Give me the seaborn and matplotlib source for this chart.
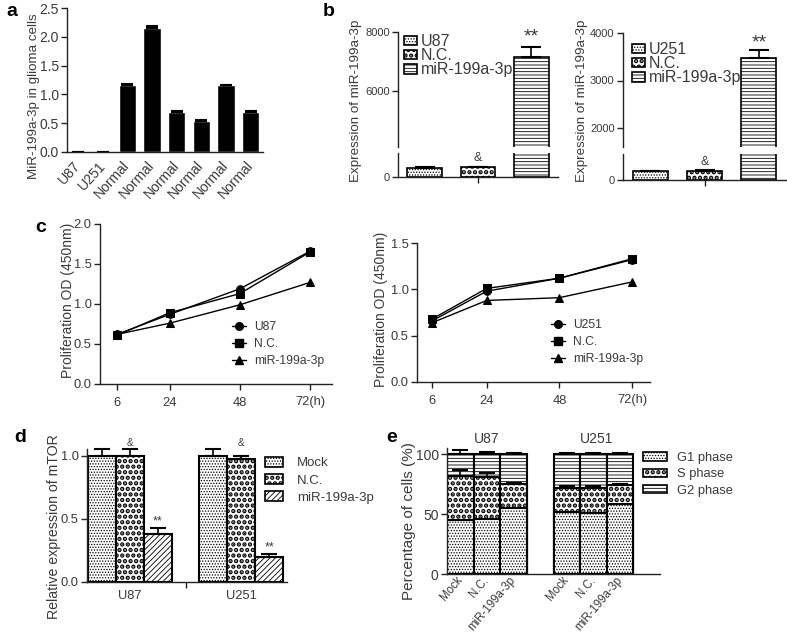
import numpy as np
import pandas as pd
import matplotlib
matplotlib.use("Agg")
import matplotlib.pyplot as plt
import seaborn as sns
from matplotlib.patches import Patch
from matplotlib.lines import Line2D

# ---------------- data ----------------
# panel a
a_labels = ["U87", "U251", "Normal", "Normal", "Normal", "Normal", "Normal", "Normal"]
a_values = [0.0, 0.0, 1.17, 2.15, 0.70, 0.54, 1.16, 0.70]
a_err = [0.0, 0.0, 0.01, 0.03, 0.01, 0.01, 0.01, 0.01]

# panel b
b1_groups = ["U87", "N.C.", "miR-199a-3p"]
b1_values = [390, 410, 7150]
b1_err = [10, 20, 340]
b2_groups = ["U251", "N.C.", "miR-199a-3p"]
b2_values = [175, 180, 3470]
b2_err = [5, 5, 170]

# panel c
c_time = [6, 24, 48, 72]
c_time_labels = ["6", "24", "48", "72(h)"]
c1_ctrl = [0.62, 0.87, 1.19, 1.66]
c1_nc = [0.61, 0.89, 1.13, 1.65]
c1_mir = [0.62, 0.76, 0.99, 1.27]
c2_ctrl = [0.66, 0.98, 1.12, 1.32]
c2_nc = [0.68, 1.01, 1.12, 1.33]
c2_mir = [0.64, 0.88, 0.91, 1.08]

# panel d
d_cells = ["U87", "U251"]
d_treat = ["Mock", "N.C.", "miR-199a-3p"]
d_mock = [1.00, 1.00]
d_mock_err = [0.05, 0.05]
d_nc = [1.00, 0.97]
d_nc_err = [0.05, 0.03]
d_mir = [0.38, 0.20]
d_mir_err = [0.05, 0.02]

# panel e
e_cells = ["U87", "U251"]
e_treat = ["Mock", "N.C.", "miR-199a-3p"]
e_g1 = [45, 46, 55, 52, 51, 58]
e_s = [37, 35, 20, 20, 21, 16]
e_g2 = [18, 19, 25, 28, 28, 26]
e_s_err = [5, 3, 1, 1, 1, 1]
e_g2_err = [3, 2, 0.5, 0.5, 0.5, 0.5]
e_phases = ["G1 phase", "S phase", "G2 phase"]

# ---------------- style ----------------
sns.set_theme(style="ticks")
plt.rcParams["font.family"] = ["Liberation Sans", "DejaVu Sans"]
plt.rcParams["hatch.linewidth"] = 0.6
TXT = "#3a3a3a"
LINE = "#222222"

H_DOT = "......"
H_CHK = "..."
H_LINES = "-----"
H_DIAG = "//////"

W, H = 787, 636
fig = plt.figure(figsize=(W / 100, H / 100), dpi=100)


def axpx(l, t, r, b):
    return fig.add_axes([l / W, 1 - b / H, (r - l) / W, (b - t) / H])


def style(ax, fs=9):
    sns.despine(ax=ax)
    for s in ["left", "bottom"]:
        ax.spines[s].set_linewidth(1.0)
        ax.spines[s].set_color(LINE)
    ax.tick_params(direction="out", length=4, width=1, color=LINE,
                   labelsize=fs, labelcolor=TXT, pad=2)
    ax.set_facecolor("none")


def hlw(h):
    return 2.2 if h == H_CHK else 0.6


def set_hatch(p, h):
    p.set_hatch(h)
    p.set_edgecolor("black")
    p.set_facecolor("white")
    if hasattr(p, "set_hatch_linewidth"):
        p.set_hatch_linewidth(hlw(h))


def ylabel(ax, text, l, r, t, b, xpx, ypx, fs=9.5):
    ax.set_ylabel(text, fontsize=fs, color=TXT)
    ax.yaxis.set_label_coords((xpx - l) / (r - l), (b - ypx) / (b - t))


def leg_patch(h):
    return Patch(facecolor="white", edgecolor="black", hatch=h, linewidth=1.2)


def fig_legend(ax, handles, labels, xpx, ypx, fs, **kw):
    lg = ax.legend(handles, labels, loc="upper left",
                   bbox_to_anchor=(xpx / W, 1 - ypx / H),
                   bbox_transform=fig.transFigure, frameon=False,
                   borderpad=0, borderaxespad=0, fontsize=fs, **kw)
    for t in lg.get_texts():
        t.set_color(TXT)
    for hnd in lg.legend_handles:
        if isinstance(hnd, Patch) and hasattr(hnd, "set_hatch_linewidth"):
            hnd.set_hatch_linewidth(hlw(hnd.get_hatch()))
    return lg


def letter(x, y, s):
    fig.text(x / W, 1 - y / H, s, fontsize=14, fontweight="bold",
             ha="center", va="center", color="black")


# ---------------- panel a ----------------
l, t, r, b = 67, 8, 263, 152
axA = axpx(l, t, r, b)
dfA = pd.DataFrame({"pos": list(range(len(a_labels))), "val": a_values})
sns.barplot(data=dfA, x="pos", y="val", color="black", width=0.7, ax=axA,
            errorbar=None, saturation=1)
axA.errorbar(range(len(a_labels)), a_values,
             yerr=[np.zeros(len(a_err)), a_err], fmt="none", ecolor="black",
             capsize=4, elinewidth=1, capthick=1.5)
axA.set_ylim(0, 2.5)
axA.set_xlim(-0.45, 7.5)
axA.set_yticks([0, 0.5, 1.0, 1.5, 2.0, 2.5])
axA.set_yticklabels(["0.0", "0.5", "1.0", "1.5", "2.0", "2.5"])
axA.set_xticks(range(len(a_labels)))
axA.set_xticklabels(a_labels, rotation=48, ha="right", va="center",
                    rotation_mode="anchor")
axA.set_xlabel("")
style(axA, fs=10)
axA.tick_params(axis="x", length=0, pad=8)
ylabel(axA, "MiR-199a-3p in glioma cells", l, r, t, b, 40, 96, fs=9.6)
letter(12, 11, "a")


# ---------------- panel b ----------------
def panel_b(l, r, tu, bu, tl, bl, ylim_u, ylim_l, yt_u, groups, vals, errs,
            star_y, amp_y, leg_xy, lab_xy):
    axU = axpx(l, tu, r, bu)
    axL = axpx(l, tl, r, bl)
    df = pd.DataFrame({"g": groups, "v": vals})
    hatches = [H_DOT, H_CHK, H_LINES]
    for ax in (axU, axL):
        sns.barplot(data=df, x="g", y="v", hue="g", palette=["white"] * 3,
                    legend=False, width=0.65, ax=ax, errorbar=None,
                    saturation=1, edgecolor="black", linewidth=1.2)
        for p, h in zip(ax.patches, hatches):
            set_hatch(p, h)
        ax.errorbar(range(3), vals, yerr=[np.zeros(3), errs], fmt="none",
                    ecolor="black", capsize=7, elinewidth=1.2, capthick=1.5)
        ax.set_xlim(-0.5, 2.5)
        ax.set_xlabel("")
        ax.set_ylabel("")
        style(ax, fs=8)
    axU.set_ylim(*ylim_u)
    axL.set_ylim(*ylim_l)
    axU.set_yticks(yt_u)
    axU.set_yticklabels([str(v) for v in yt_u])
    axL.set_yticks([0])
    axL.set_yticklabels(["0"])
    axU.spines["bottom"].set_visible(False)
    axU.set_xticks([])
    axL.set_xticks([1])
    axL.set_xticklabels([""])
    axU.text(2, star_y, "**", ha="center", va="center", fontsize=14,
             color=TXT)
    axL.text(1, amp_y, "&", ha="center", va="center", fontsize=9,
             color=TXT, clip_on=False)
    fig_legend(axU, [leg_patch(h) for h in hatches], groups, leg_xy[0],
               leg_xy[1], 11.5, handlelength=0.8, handleheight=0.55,
               handletextpad=0.25, labelspacing=-0.05)
    axU.set_ylabel("Expression of miR-199a-3p", fontsize=9.6, color=TXT)
    axU.yaxis.set_label_coords((lab_xy[0] - l) / (r - l),
                               (bu - lab_xy[1]) / (bu - tu))


panel_b(398, 558, 32, 147, 153, 177, (4100, 8000), (0, 1000), [6000, 8000],
        b1_groups, b1_values, b1_err, 7830, 790, (404, 34), (362, 101))
panel_b(623, 786, 33, 147, 154, 180, (1600, 4000), (0, 500),
        [2000, 3000, 4000], b2_groups, b2_values, b2_err, 3790, 346,
        (632, 42), (588, 101))
letter(329, 11, "b")


# ---------------- panel c ----------------
def panel_c(l, r, t, b, xlim, ylim, yticks, series, names, leg_xy, lab_xy):
    ax = axpx(l, t, r, b)
    markers = ["o", "s", "^"]
    for vals, nm, mk in zip(series, names, markers):
        sns.lineplot(x=c_time, y=vals, ax=ax, color="black", marker=mk,
                     markersize=5.5, linewidth=1.0, markeredgecolor="black",
                     label=nm)
    ax.set_xlim(*xlim)
    ax.set_ylim(*ylim)
    ax.set_yticks(yticks)
    ax.set_yticklabels([f"{v:.1f}" for v in yticks])
    ax.set_xticks(c_time)
    ax.set_xticklabels(c_time_labels)
    style(ax, fs=9.3)
    ax.tick_params(axis="x", pad=5)
    handles = [Line2D([], [], color="black", marker=m, markersize=5.5,
                      linewidth=1.0) for m in markers]
    fig_legend(ax, handles, names, leg_xy[0], leg_xy[1], 8.7,
               handlelength=1.16, handletextpad=0.66, labelspacing=0.42)
    ylabel(ax, "Proliferation OD (450nm)", l, r, t, b, lab_xy[0], lab_xy[1],
           fs=10)
    return ax


panel_c(100, 332, 224, 384, (0.2, 79.5), (0, 2.0), [0, 0.5, 1.0, 1.5, 2.0],
        [c1_ctrl, c1_nc, c1_mir], ["U87", "N.C.", "miR-199a-3p"],
        (232, 321), (75, 300))
panel_c(417, 650, 243, 382, (1.0, 77.9), (0, 1.5), [0, 0.5, 1.0, 1.5],
        [c2_ctrl, c2_nc, c2_mir], ["U251", "N.C.", "miR-199a-3p"],
        (551, 319), (388, 309))
letter(41, 227, "c")

# ---------------- panel d ----------------
l, t, r, b = 87, 443, 287, 582
axD = axpx(l, t, r, b)
dfD = pd.DataFrame({
    "cell": d_cells * 3,
    "treat": sum([[tr] * len(d_cells) for tr in d_treat], []),
    "val": d_mock + d_nc + d_mir,
})
errD = [d_mock_err, d_nc_err, d_mir_err]
sns.barplot(data=dfD, x="cell", y="val", hue="treat", hue_order=d_treat,
            palette=["white"] * 3, width=0.76, ax=axD, errorbar=None,
            legend=False, saturation=1, edgecolor="black", linewidth=1.5)
hatchD = [H_DOT, H_CHK, H_DIAG]
for cont, h, er in zip(axD.containers, hatchD, errD):
    xs = []
    ys = []
    for p in cont.patches:
        set_hatch(p, h)
        xs.append(p.get_x() + p.get_width() / 2)
        ys.append(p.get_height())
    axD.errorbar(xs, ys, yerr=[np.zeros(len(er)), er], fmt="none",
                 ecolor="black", capsize=6, elinewidth=1.2, capthick=1.5)
    if h == H_CHK:
        for x in xs:
            axD.text(x, 1.10, "&", ha="center", va="center", fontsize=7,
                     color=TXT, clip_on=False)
    if h == H_DIAG:
        for x, y, e in zip(xs, ys, er):
            axD.text(x, y + e + 0.05, "**", ha="center", va="center",
                     fontsize=9, color=TXT)
axD.set_ylim(0, 1.1)
axD.set_xlim(-0.387, 1.414)
axD.set_yticks([0, 0.5, 1.0])
axD.set_yticklabels(["0.0", "0.5", "1.0"])
axD.set_xlabel("")
style(axD, fs=9.3)
axD.tick_params(axis="x", length=0, pad=6)
axD.set_xticks([0.5], minor=True)
axD.tick_params(axis="x", which="minor", length=4, width=1, color=LINE)
axD.spines["left"].set_bounds(0, 1.05)
fig_legend(axD, [leg_patch(h) for h in hatchD], d_treat, 265, 457, 9.5,
           handlelength=1.36, handleheight=0.76, handletextpad=1.06,
           labelspacing=0.36)
ylabel(axD, "Relative expression of mTOR", l, r, t, b, 61, 527, fs=10.2)
letter(20, 438, "d")

# ---------------- panel e ----------------
l, t, r, b = 447, 448, 660, 574
axE = axpx(l, t, r, b)
e_pos = [0, 1, 2, 4, 5, 6]
e_top_s = [g + s for g, s in zip(e_g1, e_s)]
e_top_all = [g + s + q for g, s, q in zip(e_g1, e_s, e_g2)]
layers = [(e_top_all, H_LINES), (e_top_s, H_CHK), (e_g1, H_DOT)]
for vals, h in layers:
    n0 = len(axE.patches)
    dfE = pd.DataFrame({"pos": e_pos, "val": vals})
    sns.barplot(data=dfE, x="pos", y="val", native_scale=True, width=1.0,
                color="white", ax=axE, errorbar=None, saturation=1,
                edgecolor="black", linewidth=1.5)
    for p in axE.patches[n0:]:
        set_hatch(p, h)
axE.errorbar(e_pos, e_top_s, yerr=[np.zeros(6), e_s_err], fmt="none",
             ecolor="black", capsize=6, elinewidth=1.2, capthick=1.5)
axE.errorbar(e_pos, e_top_all, yerr=[np.zeros(6), e_g2_err], fmt="none",
             ecolor="black", capsize=6, elinewidth=1.2, capthick=1.5)
axE.set_xlim(-0.5, 7.5)
axE.set_ylim(0, 105)
axE.set_yticks([0, 50, 100])
axE.set_yticklabels(["0", "50", "100"])
axE.set_xticks(e_pos)
axE.set_xticklabels(e_treat * 2, rotation=50, ha="right", va="center",
                    rotation_mode="anchor")
axE.set_xlabel("")
axE.set_ylabel("")
style(axE, fs=10)
axE.tick_params(axis="x", length=0, pad=3, labelsize=8.3)
for x, cell in zip([1, 5.1], e_cells):
    axE.text(x, 112.5, cell, ha="center", va="center", fontsize=10,
             color=TXT, clip_on=False)
fig_legend(axE, [leg_patch(h) for h in [H_DOT, H_CHK, H_LINES]], e_phases,
           643, 452, 9.3, handlelength=1.86, handleheight=0.6,
           handletextpad=0.78, labelspacing=0.33)
ylabel(axE, "Percentage of cells (%)", l, r, t, b, 416, 521, fs=11)
letter(392, 437, "e")

fig.savefig("out.png", dpi=100)
